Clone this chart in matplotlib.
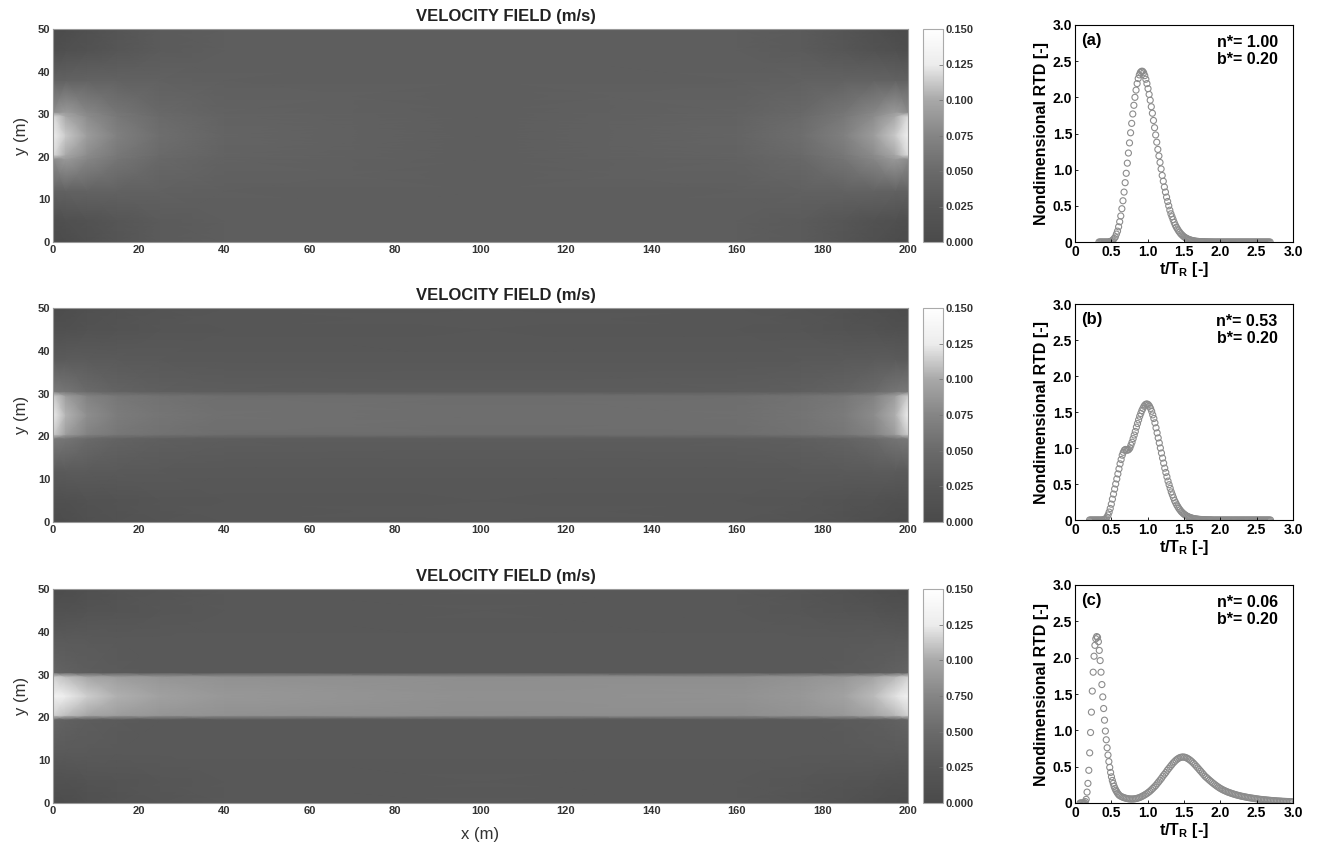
import numpy as np
import matplotlib
matplotlib.use("Agg")
import matplotlib.pyplot as plt
from matplotlib.colors import LinearSegmentedColormap

plt.rcParams['font.family'] = ['Liberation Sans', 'DejaVu Sans']
plt.rcParams['mathtext.fontset'] = 'custom'
plt.rcParams['mathtext.bf'] = 'Liberation Sans:bold'
plt.rcParams['mathtext.rm'] = 'Liberation Sans:bold'

# ---- velocity field: values read on a coarse grid (lower half, mirrored about y = 25)
x_nodes = [0, 3, 8, 15, 25, 40, 100, 160, 175, 185, 192, 197, 200]
y_half = [0, 5, 12, 19.5, 20.5, 25]

vel_a = [
    [0.002, 0.005, 0.012, 0.022, 0.030, 0.034, 0.035, 0.034, 0.030, 0.022, 0.012, 0.005, 0.002],
    [0.008, 0.011, 0.016, 0.024, 0.031, 0.034, 0.035, 0.034, 0.031, 0.024, 0.016, 0.011, 0.008],
    [0.038, 0.040, 0.041, 0.040, 0.038, 0.036, 0.035, 0.036, 0.038, 0.040, 0.041, 0.040, 0.038],
    [0.080, 0.090, 0.076, 0.060, 0.048, 0.040, 0.035, 0.040, 0.048, 0.060, 0.076, 0.090, 0.080],
    [0.120, 0.100, 0.080, 0.063, 0.050, 0.041, 0.035, 0.041, 0.050, 0.063, 0.080, 0.100, 0.120],
    [0.132, 0.112, 0.092, 0.070, 0.054, 0.042, 0.035, 0.042, 0.054, 0.070, 0.092, 0.112, 0.132],
]
vel_b = [
    [0.004, 0.006, 0.011, 0.016, 0.020, 0.024, 0.025, 0.024, 0.020, 0.015, 0.010, 0.006, 0.004],
    [0.011, 0.012, 0.015, 0.018, 0.022, 0.024, 0.025, 0.024, 0.022, 0.018, 0.015, 0.012, 0.011],
    [0.029, 0.030, 0.030, 0.029, 0.027, 0.026, 0.026, 0.026, 0.027, 0.029, 0.030, 0.030, 0.029],
    [0.064, 0.060, 0.050, 0.041, 0.036, 0.033, 0.032, 0.033, 0.036, 0.041, 0.050, 0.060, 0.064],
    [0.114, 0.092, 0.072, 0.062, 0.057, 0.054, 0.053, 0.054, 0.057, 0.062, 0.072, 0.092, 0.114],
    [0.130, 0.104, 0.082, 0.067, 0.060, 0.056, 0.054, 0.055, 0.059, 0.066, 0.080, 0.102, 0.130],
]
vel_c = [
    [0.004, 0.006, 0.011, 0.017, 0.022, 0.026, 0.027, 0.026, 0.022, 0.015, 0.010, 0.006, 0.004],
    [0.013, 0.014, 0.017, 0.020, 0.024, 0.026, 0.027, 0.026, 0.024, 0.020, 0.017, 0.014, 0.013],
    [0.029, 0.029, 0.029, 0.028, 0.027, 0.027, 0.027, 0.027, 0.027, 0.028, 0.029, 0.029, 0.029],
    [0.042, 0.038, 0.033, 0.030, 0.028, 0.027, 0.027, 0.027, 0.028, 0.030, 0.033, 0.038, 0.042],
    [0.116, 0.108, 0.099, 0.092, 0.087, 0.084, 0.081, 0.082, 0.085, 0.089, 0.097, 0.106, 0.116],
    [0.134, 0.126, 0.114, 0.103, 0.095, 0.088, 0.083, 0.084, 0.089, 0.096, 0.107, 0.121, 0.134],
]

cbar_ticks = [0.000, 0.025, 0.050, 0.075, 0.100, 0.125, 0.150]
cbar_labels_ab = ['0.000', '0.025', '0.050', '0.075', '0.100', '0.125', '0.150']
cbar_labels_c = ['0.000', '0.025', '0.500', '0.750', '0.100', '0.125', '0.150']

# ---- residence time distributions
t0_a, dt_a = 0.33, 0.015
rtd_a = [0, 0, 0, 0, 0, 0, 0, 0, 0, 0,
         0.005, 0.01, 0.02, 0.03, 0.05, 0.07, 0.11, 0.15, 0.21, 0.28,
         0.36, 0.46, 0.57, 0.69, 0.82, 0.95, 1.09, 1.23, 1.37, 1.51,
         1.64, 1.77, 1.89, 2.00, 2.10, 2.19, 2.26, 2.31, 2.345, 2.36,
         2.36, 2.34, 2.30, 2.25, 2.19, 2.12, 2.04, 1.96, 1.87, 1.78,
         1.68, 1.58, 1.48, 1.38, 1.28, 1.19, 1.10, 1.01, 0.92, 0.84,
         0.76, 0.69, 0.62, 0.56, 0.50, 0.44, 0.39, 0.35, 0.31, 0.27,
         0.235, 0.205, 0.18, 0.155, 0.135, 0.115, 0.10, 0.085, 0.072, 0.062,
         0.053, 0.045, 0.038, 0.032, 0.027, 0.023, 0.019, 0.016, 0.013, 0.011,
         0.009, 0.008, 0.006, 0.005, 0.004, 0.004, 0.003, 0.003, 0.002, 0.002,
         0.002, 0.001, 0.001, 0.001, 0.001, 0, 0, 0, 0, 0,
         0, 0, 0, 0, 0, 0, 0, 0, 0, 0,
         0, 0, 0, 0, 0, 0, 0, 0, 0, 0,
         0, 0, 0, 0, 0, 0, 0, 0, 0, 0,
         0, 0, 0, 0, 0, 0, 0, 0, 0, 0,
         0, 0, 0, 0, 0, 0, 0, 0]

t0_b, dt_b = 0.20, 0.015
rtd_b = [0, 0, 0, 0, 0, 0, 0, 0, 0, 0, 0, 0, 0,
         0.005, 0.01, 0.02, 0.04, 0.07, 0.11, 0.16, 0.22, 0.29, 0.36,
         0.43, 0.50, 0.57, 0.64, 0.71, 0.78, 0.84, 0.90, 0.94, 0.97,
         0.98, 0.97, 0.97, 0.98, 1.00, 1.04, 1.08, 1.13, 1.18, 1.23,
         1.29, 1.34, 1.39, 1.44, 1.48, 1.52, 1.55, 1.58, 1.60, 1.61,
         1.61, 1.60, 1.58, 1.55, 1.51, 1.46, 1.41, 1.35, 1.28, 1.21,
         1.14, 1.07, 1.00, 0.93, 0.86, 0.79, 0.72, 0.66, 0.60, 0.54,
         0.49, 0.44, 0.39, 0.35, 0.31, 0.27, 0.24, 0.21, 0.185, 0.16,
         0.14, 0.12, 0.105, 0.09, 0.078, 0.067, 0.057, 0.049, 0.042, 0.036,
         0.031, 0.026, 0.022, 0.019, 0.016, 0.014, 0.012, 0.010, 0.008, 0.007,
         0.006, 0.005, 0.004, 0.004, 0.003, 0.003, 0.002, 0.002, 0.002, 0.001,
         0, 0, 0, 0, 0, 0, 0, 0, 0, 0,
         0, 0, 0, 0, 0, 0, 0, 0, 0, 0,
         0, 0, 0, 0, 0, 0, 0, 0, 0, 0,
         0, 0, 0, 0, 0, 0, 0, 0, 0, 0,
         0, 0, 0, 0, 0, 0, 0, 0, 0, 0,
         0, 0, 0, 0]

t0_c_early, dt_c_early = 0.07, 0.012
rtd_c_early = [0, 0, 0, 0, 0, 0.005, 0.02, 0.05, 0.15, 0.27,
               0.45, 0.69, 0.97, 1.25, 1.54, 1.80, 2.02, 2.17, 2.26, 2.29,
               2.28, 2.22, 2.10, 1.96, 1.80, 1.63, 1.46, 1.30, 1.14, 0.99,
               0.87, 0.76, 0.66, 0.57, 0.49, 0.42, 0.36, 0.31, 0.27, 0.23,
               0.20, 0.175, 0.155, 0.135, 0.12]
t0_c_late, dt_c_late = 0.61, 0.02
rtd_c_late = [0.105, 0.093, 0.083, 0.075, 0.068, 0.063, 0.059, 0.056, 0.055, 0.055,
              0.056, 0.059, 0.063, 0.069, 0.076, 0.085, 0.095, 0.106, 0.118, 0.131,
              0.146, 0.162, 0.18, 0.20, 0.22, 0.24, 0.265, 0.29, 0.315, 0.34,
              0.37, 0.395, 0.42, 0.45, 0.475, 0.50, 0.525, 0.55, 0.57, 0.59,
              0.605, 0.618, 0.627, 0.632, 0.633, 0.630, 0.623, 0.613, 0.60, 0.585,
              0.567, 0.548, 0.527, 0.505, 0.483, 0.46, 0.437, 0.414, 0.391, 0.368,
              0.35, 0.332, 0.314, 0.297, 0.28, 0.264, 0.249, 0.234, 0.22, 0.207,
              0.195, 0.184, 0.174, 0.165, 0.156, 0.148, 0.141, 0.134, 0.127, 0.121,
              0.115, 0.109, 0.104, 0.099, 0.094, 0.09, 0.086, 0.082, 0.078, 0.074,
              0.071, 0.068, 0.065, 0.062, 0.059, 0.056, 0.053, 0.050, 0.048, 0.046,
              0.044, 0.042, 0.040, 0.038, 0.036, 0.034, 0.033, 0.031, 0.030, 0.028,
              0.027, 0.026, 0.024, 0.023, 0.022, 0.021, 0.020, 0.019, 0.018, 0.017]

panel_tags = ['(a)', '(b)', '(c)']
n_star = ['1.00', '0.53', '0.06']
b_star = ['0.20', '0.20', '0.20']

# ---- build arrays
t_a = t0_a + dt_a * np.arange(len(rtd_a))
t_b = t0_b + dt_b * np.arange(len(rtd_b))
t_c = np.concatenate([t0_c_early + dt_c_early * np.arange(len(rtd_c_early)),
                      t0_c_late + dt_c_late * np.arange(len(rtd_c_late))])
rtd_c = rtd_c_early + rtd_c_late
rtd_series = [(t_a, rtd_a), (t_b, rtd_b), (t_c, rtd_c)]

y_nodes = y_half + [50 - y for y in y_half[-2::-1]]


def full_field(half):
    half = np.array(half)
    return np.vstack([half, half[-2::-1]])


fields = [full_field(vel_a), full_field(vel_b), full_field(vel_c)]

cmap = LinearSegmentedColormap.from_list('vel', [
    (0.0, '#4a4a4a'), (0.025 / 0.15, '#575757'), (0.05 / 0.15, '#6a6a6a'),
    (0.075 / 0.15, '#858585'), (0.10 / 0.15, '#a8a8a8'), (0.115 / 0.15, '#d0d0d0'),
    (0.125 / 0.15, '#ececec'), (1.0, '#ffffff')])

W, H = 1320, 849
fig = plt.figure(figsize=(W / 100, H / 100), dpi=100)

heat_rows = [(29, 242), (308, 522), (589, 803)]
rtd_rows = [(25, 242), (304, 520), (585, 803)]


def fbox(left, right, top, bottom):
    return [left / W, 1 - bottom / H, (right - left) / W, (bottom - top) / H]


X, Y = np.meshgrid(x_nodes, y_nodes)

for i in range(3):
    top, bottom = heat_rows[i]
    ax = fig.add_axes(fbox(53, 908, top, bottom))
    mesh = ax.pcolormesh(X, Y, fields[i], cmap=cmap, vmin=0, vmax=0.15, shading='gouraud')
    ax.set_xlim(0, 200)
    ax.set_ylim(0, 50)
    ax.set_xticks(range(0, 201, 20))
    ax.set_yticks(range(0, 51, 10))
    ax.tick_params(length=0, pad=2, labelsize=8, labelcolor='#333333')
    for lab in ax.get_xticklabels() + ax.get_yticklabels():
        lab.set_fontweight('bold')
    for s in ax.spines.values():
        s.set_color('#999999')
        s.set_linewidth(0.8)
    ax.set_ylabel('y (m)', fontsize=12, color='#333333', labelpad=6)
    ax.text(0.53, 1.025, 'VELOCITY FIELD (m/s)', transform=ax.transAxes,
            ha='center', va='bottom', fontsize=12, fontweight='bold', color='#222222')
    if i == 2:
        ax.set_xlabel('x (m)', fontsize=12, color='#333333', labelpad=8)

    cax = fig.add_axes(fbox(923, 943, top, bottom))
    cb = fig.colorbar(mesh, cax=cax, ticks=cbar_ticks)
    cb.ax.set_yticklabels(cbar_labels_c if i == 2 else cbar_labels_ab)
    cb.ax.tick_params(direction='in', length=3, width=0.6, color='#777777',
                      labelsize=8, labelcolor='#333333', pad=2)
    for lab in cb.ax.get_yticklabels():
        lab.set_fontweight('bold')
    cb.outline.set_edgecolor('#aaaaaa')
    cb.outline.set_linewidth(0.8)

    top, bottom = rtd_rows[i]
    rx = fig.add_axes(fbox(1075, 1293, top, bottom))
    t, e = rtd_series[i]
    rx.scatter(t, e, s=19, facecolors='none', edgecolors='#8c8c8c', linewidths=0.8)
    rx.set_xlim(0, 3)
    rx.set_ylim(0, 3)
    ticks = [0, 0.5, 1.0, 1.5, 2.0, 2.5, 3.0]
    tick_labels = ['0', '0.5', '1.0', '1.5', '2.0', '2.5', '3.0']
    rx.set_xticks(ticks)
    rx.set_xticklabels(tick_labels)
    rx.set_yticks(ticks)
    rx.set_yticklabels(tick_labels)
    rx.tick_params(direction='in', length=2.5, width=0.6, labelsize=10, pad=2)
    for lab in rx.get_xticklabels() + rx.get_yticklabels():
        lab.set_fontweight('bold')
    for s in rx.spines.values():
        s.set_linewidth(0.8)
    rx.set_xlabel(r't/T$_{\mathbf{R}}$ [-]', fontsize=11.5, fontweight='bold', labelpad=1)
    rx.set_ylabel('Nondimensional RTD [-]', fontsize=11.5, fontweight='bold', labelpad=3)
    rx.text(0.03, 0.965, panel_tags[i], transform=rx.transAxes, ha='left', va='top',
            fontsize=12, fontweight='bold')
    rx.text(0.93, 0.955, 'n*= ' + n_star[i] + '\nb*= ' + b_star[i], transform=rx.transAxes,
            ha='right', va='top', fontsize=11.5, fontweight='bold', linespacing=1.15)

fig.savefig('out.png', dpi=100)
